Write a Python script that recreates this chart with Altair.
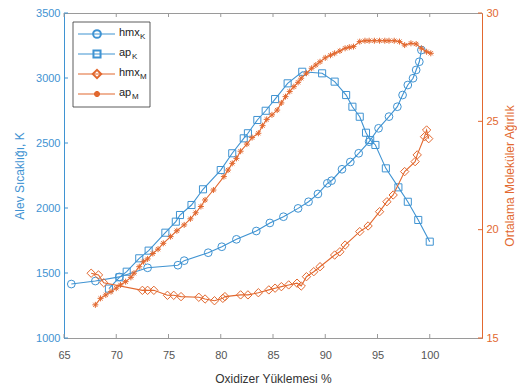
import altair as alt
import pandas as pd

# ---- data ----
hmxK_x = [65.7, 68.0, 70.3, 73.0, 75.9, 76.5, 78.8, 80.1, 81.5, 83.4, 84.7, 86.0, 87.4, 88.4, 89.3,
          90.2, 90.6, 91.6, 92.4, 93.2, 94.2, 95.1, 96.1, 96.9, 97.4, 97.9, 98.4, 98.7, 99.0, 99.2]
hmxK_y = [1415, 1438, 1470, 1540, 1560, 1595, 1656, 1702, 1759, 1823, 1885, 1933, 1997, 2048, 2108,
          2190, 2210, 2298, 2354, 2421, 2510, 2613, 2703, 2779, 2869, 2946, 2998, 3062, 3125, 3215]

apK_x = [69.3, 70.3, 71.0, 72.2, 73.1, 74.7, 75.7, 76.1, 77.2, 78.3, 80.0, 81.1, 82.2, 82.6, 83.5,
         84.3, 85.2, 86.4, 87.8, 89.7, 90.9, 92.0, 92.6, 93.3, 93.9, 94.3, 94.8, 95.8, 97.0, 97.9,
         98.9, 100.0]
apK_y = [1380, 1467, 1510, 1613, 1672, 1810, 1895, 1946, 2023, 2144, 2292, 2421, 2536, 2575, 2677,
         2748, 2838, 2959, 3048, 3036, 2972, 2869, 2779, 2702, 2579, 2523, 2485, 2305, 2159, 2048,
         1908, 1741]

hmxM_x = [67.6, 68.3, 68.8, 72.5, 73.0, 73.6, 74.9, 75.5, 76.2, 77.9, 78.5, 79.4, 80.2, 80.4, 81.9,
          82.6, 83.6, 84.6, 85.2, 85.8, 86.5, 87.3, 87.7, 88.2, 88.9, 89.5, 90.9, 91.4, 91.9, 93.3,
          94.1, 95.2, 95.9, 96.5, 97.6, 98.6, 98.8, 99.5, 99.7, 99.9]
hmxM_y = [17.99, 17.91, 17.55, 17.20, 17.20, 17.20, 16.97, 16.97, 16.91, 16.88, 16.80, 16.72, 16.83,
          16.91, 16.99, 16.99, 17.09, 17.22, 17.30, 17.37, 17.45, 17.53, 17.40, 17.83, 18.06, 18.29,
          18.83, 18.98, 19.29, 19.91, 20.17, 20.83, 21.29, 21.60, 22.68, 23.14, 23.45, 24.29, 24.60,
          24.20]

apM_x = [68.0, 68.5, 69.0, 69.5, 70.0, 70.4, 70.9, 71.4, 71.7, 72.2, 72.6, 73.0, 73.5, 74.0, 74.5,
         75.2, 75.8, 76.5, 77.1, 77.6, 78.1, 78.5, 79.3, 80.3, 80.7, 81.1, 81.5, 81.9, 82.5, 83.0,
         83.6, 84.0, 84.4, 84.9, 85.4, 85.8, 86.2, 86.6, 87.0, 87.4, 87.7, 88.2, 88.7, 89.1, 89.5,
         90.0, 90.5, 90.9, 91.4, 91.9, 92.3, 92.7, 93.3, 93.8, 94.2, 94.7, 95.2, 95.7, 96.1, 96.6,
         97.1, 97.6, 98.2, 98.7, 99.2, 99.7, 100.1]
apM_y = [16.53, 16.83, 16.99, 17.14, 17.30, 17.45, 17.60, 17.80, 17.99, 18.29, 18.52, 18.65, 18.90,
         19.10, 19.37, 19.68, 19.95, 20.22, 20.50, 20.78, 21.07, 21.37, 21.83, 22.45, 22.75, 23.06,
         23.29, 23.62, 23.95, 24.25, 24.45, 24.80, 25.09, 25.30, 25.52, 25.85, 26.14, 26.38, 26.60,
         26.80, 26.99, 27.22, 27.45, 27.60, 27.75, 27.93, 28.05, 28.14, 28.25, 28.37, 28.42, 28.45,
         28.68, 28.72, 28.72, 28.72, 28.72, 28.72, 28.72, 28.72, 28.68, 28.52, 28.60, 28.57, 28.37,
         28.21, 28.14]

x_ticks = [65, 70, 75, 80, 85, 90, 95, 100]
yL_ticks = [1000, 1500, 2000, 2500, 3000, 3500]
yR_ticks = [15, 20, 25, 30]
legend_main = ["hmx", "ap", "hmx", "ap"]
legend_sub = ["K", "K", "M", "M"]

BLUE = "#3f93d2"
ORANGE = "#e2682f"
GRAY = "#9a9a9a"
FONT = "Liberation Sans"
W, H = 418, 325

ASTER = "M0,-1L0,1M-1,0L1,0M-0.7,-0.7L0.7,0.7M-0.7,0.7L0.7,-0.7"

xenc = alt.X("x:Q", scale=alt.Scale(domain=[65, 105], nice=False, zero=False),
             axis=alt.Axis(values=x_ticks, title="Oxidizer Yüklemesi %", grid=False,
                           ticks=False, labelPadding=11, labelFontSize=11, labelColor="#555",
                           labelFont=FONT, domainColor=GRAY, titleFont=FONT, titleFontSize=12,
                           titleFontWeight="normal", titleColor="#333", titleY=40,
                           titleBaseline="middle", labelFlush=False))

yL = alt.Y("v:Q", scale=alt.Scale(domain=[1000, 3500], nice=False, zero=False),
           axis=alt.Axis(values=yL_ticks, format="d", title="Alev Sıcaklığı, K", grid=False,
                         ticks=False, labelPadding=4, labelFontSize=11, labelColor=BLUE,
                         labelFont=FONT, domainColor=BLUE, titleFont=FONT, titleFontSize=12,
                         titleFontWeight="normal", titleColor=BLUE, titleX=-45, titleY=H / 2,
                         titleAngle=270, titleAlign="center", titleBaseline="middle"))

yR = alt.Y("v:Q", scale=alt.Scale(domain=[15, 30], nice=False, zero=False),
           axis=alt.Axis(orient="right", values=yR_ticks, format="d",
                         title="Ortalama Moleküler Ağırlık",
                         grid=False, ticks=False, labelPadding=4, labelFontSize=11,
                         labelColor=ORANGE, labelFont=FONT, domainColor=ORANGE, titleFont=FONT,
                         titleFontSize=12, titleFontWeight="normal", titleColor=ORANGE,
                         titleX=27, titleY=H / 2, titleAngle=270, titleAlign="center",
                         titleBaseline="middle"))


def series(xs, ys, yenc, color, shape, size, filled=False):
    df = pd.DataFrame({"x": xs, "v": ys})
    base = alt.Chart(df)
    line = base.mark_line(color=color, strokeWidth=1.1).encode(x=xenc, y=yenc)
    pts = base.mark_point(shape=shape, size=size, filled=filled, color=color,
                          strokeWidth=1.0, opacity=1).encode(x=xenc, y=yenc)
    return [line, pts]


# tick marks pointing inward
xt = pd.DataFrame({"x": x_ticks})
xt_bot = alt.Chart(xt).mark_rule(color=GRAY).encode(x=xenc, y=alt.value(H - 4), y2=alt.value(H))
xt_top = alt.Chart(xt).mark_rule(color=GRAY).encode(x=xenc, y=alt.value(0), y2=alt.value(4))
ylt = alt.Chart(pd.DataFrame({"v": yL_ticks})).mark_rule(color=BLUE).encode(
    y=yL, x=alt.value(0), x2=alt.value(4))
yrt = alt.Chart(pd.DataFrame({"v": yR_ticks})).mark_rule(color=ORANGE).encode(
    y=yR, x=alt.value(W - 4), x2=alt.value(W))

left = alt.layer(
    *series(hmxK_x, hmxK_y, yL, BLUE, "circle", 60),
    *series(apK_x, apK_y, yL, BLUE, "square", 50),
    ylt,
)
right = alt.layer(
    *series(hmxM_x, hmxM_y, yR, ORANGE, "diamond", 70),
    *series(apM_x, apM_y, yR, ORANGE, ASTER, 36),
    yrt,
)

# legend (box + entries)
one = pd.DataFrame({"a": [0]})
leg = [alt.Chart(one).mark_rect(fill="white", stroke="#333", strokeWidth=0.8).encode(
    x=alt.value(9), x2=alt.value(86), y=alt.value(9), y2=alt.value(94))]
shapes = ["circle", "square", "diamond", ASTER]
sizes = [60, 50, 70, 36]
colors = [BLUE, BLUE, ORANGE, ORANGE]
main_w = {"hmx": 21, "ap": 13}
for i in range(4):
    yy = 21 + 20 * i
    c = colors[i]
    leg.append(alt.Chart(one).mark_rule(color=c, strokeWidth=1.1).encode(
        x=alt.value(14), x2=alt.value(51), y=alt.value(yy)))
    leg.append(alt.Chart(one).mark_point(shape=shapes[i], size=sizes[i], filled=False, color=c,
                                         opacity=1).encode(x=alt.value(33), y=alt.value(yy)))
    leg.append(alt.Chart(one).mark_text(text=legend_main[i], align="left", baseline="middle",
                                        font=FONT, fontSize=11, color="#222").encode(
        x=alt.value(55), y=alt.value(yy - 1)))
    leg.append(alt.Chart(one).mark_text(text=legend_sub[i], align="left", baseline="middle",
                                        font=FONT, fontSize=8, color="#222").encode(
        x=alt.value(55 + main_w[legend_main[i]]), y=alt.value(yy + 3)))

chart = alt.layer(left, right, xt_bot, xt_top, *leg).resolve_scale(y="independent").properties(
    width=W, height=H, autosize=alt.AutoSizeParams(type="none"),
    padding={"left": 64, "top": 13, "right": 35, "bottom": 47},
    background="white",
).configure_view(stroke=GRAY, strokeWidth=1)

chart.save("out.html", embed_options={"renderer": "svg", "actions": False})
